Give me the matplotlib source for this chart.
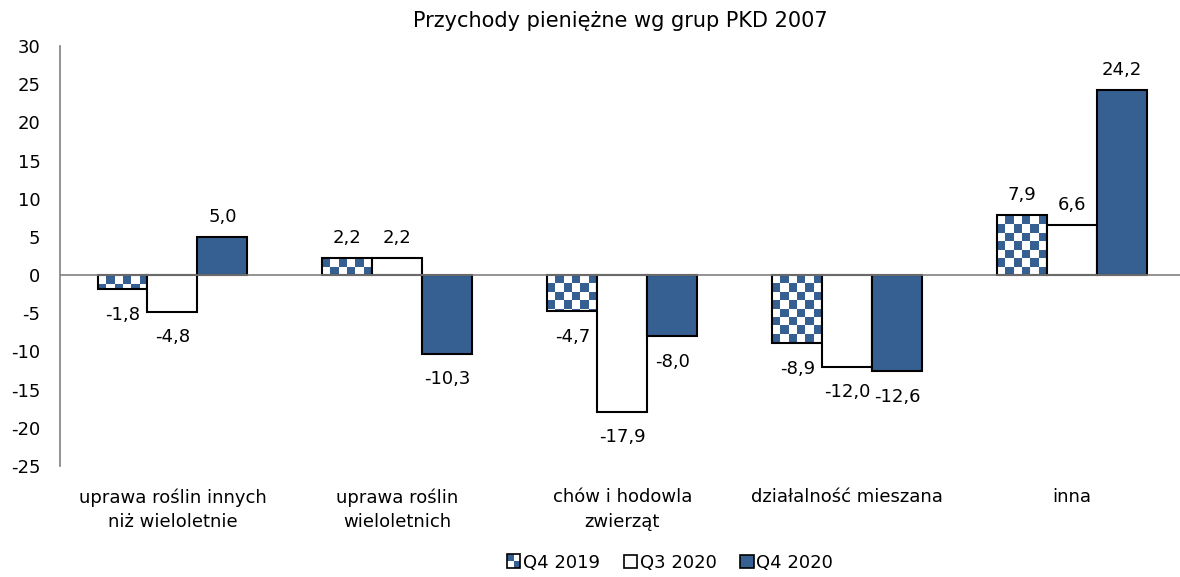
# -*- coding: utf-8 -*-
'''Przychody pieniężne wg grup PKD 2007'''
import matplotlib
matplotlib.use('Agg')
import matplotlib.pyplot as plt
import numpy as np
from matplotlib.patches import Rectangle

# dane
categories = ['uprawa roślin innych\nniż wieloletnie', 'uprawa roślin\nwieloletnich',
              'chów i hodowla\nzwierząt', 'działalność mieszana', 'inna']
q4_2019 = [-1.8, 2.2, -4.7, -8.9, 7.9]
q3_2020 = [-4.8, 2.2, -17.9, -12.0, 6.6]
q4_2020 = [5.0, -10.3, -8.0, -12.6, 24.2]
series_names = ['Q4 2019', 'Q3 2020', 'Q4 2020']
yticks = [30, 25, 20, 15, 10, 5, 0, -5, -10, -15, -20, -25]

blue = '#376092'
plt.rcParams['font.family'] = ['DejaVu Sans']

fig = plt.figure(figsize=(11.8, 5.77), dpi=100)
ax = fig.add_axes([60/1180, 1-466/577, 1-60/1180, 420/577])

x = np.arange(len(categories))
w = 0.222
kw = dict(width=w, edgecolor='black', linewidth=1.5, zorder=3)
b1 = ax.bar(x - w, q4_2019, facecolor='white', **kw)
b2 = ax.bar(x, q3_2020, facecolor='white', **kw)
b3 = ax.bar(x + w, q4_2020, facecolor=blue, **kw)

ax.set_xlim(-0.5, 4.48)
ax.set_ylim(-25, 30)

# szachownica w słupkach Q4 2019
cmap = matplotlib.colors.ListedColormap(['white', blue])
px_x = ax.get_position().width * 1180 / 4.98
px_y = ax.get_position().height * 577 / 55
sq = 8.4
for bar in b1:
    x0, y0 = bar.get_x(), bar.get_y()
    bw, bh = bar.get_width(), bar.get_height()
    nc = max(1, int(round(bw * px_x / sq)))
    nr = max(1, int(np.ceil(abs(bh) * px_y / sq)))
    grid = (np.add.outer(np.arange(nr), np.arange(nc)) % 2).astype(float)
    top = max(y0, y0 + bh)
    if bh >= 0:
        ext = [x0, x0 + bw, y0, y0 + nr * sq / px_y]
        org = 'lower'
    else:
        ext = [x0, x0 + bw, top - nr * sq / px_y, top]
        org = 'upper'
    im = ax.imshow(grid, cmap=cmap, vmin=0, vmax=1, extent=ext, origin=org,
                   interpolation='none', aspect='auto', zorder=2.5)
    clip = Rectangle((x0, y0), bw, bh, transform=ax.transData)
    im.set_clip_path(clip)
    bar.set_facecolor('none')

ax.set_xlim(-0.5, 4.48)
ax.set_ylim(-25, 30)

# etykiety wartości
for bars, vals in [(b1, q4_2019), (b2, q3_2020), (b3, q4_2020)]:
    for bar, v in zip(bars, vals):
        cx = bar.get_x() + bar.get_width() / 2
        txt = '{:.1f}'.format(v).replace('.', ',')
        if v >= 0:
            ax.annotate(txt, (cx, v), xytext=(0, 8), textcoords='offset points',
                        ha='center', va='bottom', fontsize=13, zorder=5)
        else:
            ax.annotate(txt, (cx, v), xytext=(0, -12), textcoords='offset points',
                        ha='center', va='top', fontsize=13, zorder=5)

ax.axhline(0, color='#808080', linewidth=1.2, zorder=4)
for s in ['top', 'right', 'bottom']:
    ax.spines[s].set_visible(False)
ax.spines['left'].set_color('#808080')
ax.spines['left'].set_linewidth(1.2)

ax.set_yticks(yticks)
ax.set_yticklabels([str(t) for t in yticks], fontsize=13)
ax.set_xticks(x)
ax.set_xticklabels(categories, fontsize=13, linespacing=1.45)
ax.tick_params(axis='y', length=0, pad=14)
ax.tick_params(axis='x', length=0, pad=16)

ax.set_title('Przychody pieniężne wg grup PKD 2007', fontsize=15, pad=14)


# legenda z szachownicą
class CheckerHandler:
    def legend_artist(self, legend, orig_handle, fontsize, handlebox):
        x0, y0 = handlebox.xdescent, handlebox.ydescent
        wd, ht = handlebox.width, handlebox.height
        tr = handlebox.get_transform()
        bg = Rectangle((x0, y0), wd, ht, facecolor='white', edgecolor='none',
                       transform=tr)
        handlebox.add_artist(bg)
        for (dx, dy) in [(0, 1), (1, 0)]:
            r = Rectangle((x0 + dx * wd / 2, y0 + dy * ht / 2), wd / 2, ht / 2,
                          facecolor=blue, edgecolor='none', transform=tr)
            handlebox.add_artist(r)
        edge = Rectangle((x0, y0), wd, ht, facecolor='none', edgecolor='black',
                         linewidth=1.2, transform=tr)
        handlebox.add_artist(edge)
        return bg


h1 = Rectangle((0, 0), 1, 1)
h2 = Rectangle((0, 0), 1, 1, facecolor='white', edgecolor='black', linewidth=1.2)
h3 = Rectangle((0, 0), 1, 1, facecolor=blue, edgecolor='black', linewidth=1.2)
fig.legend([h1, h2, h3], series_names, loc='center', ncol=3,
           bbox_to_anchor=(670/1180, 1-563/577), frameon=False, fontsize=13,
           handlelength=0.75, handleheight=0.75, handletextpad=0.15,
           columnspacing=1.3, handler_map={h1: CheckerHandler()})

fig.savefig('out.png', dpi=100)
